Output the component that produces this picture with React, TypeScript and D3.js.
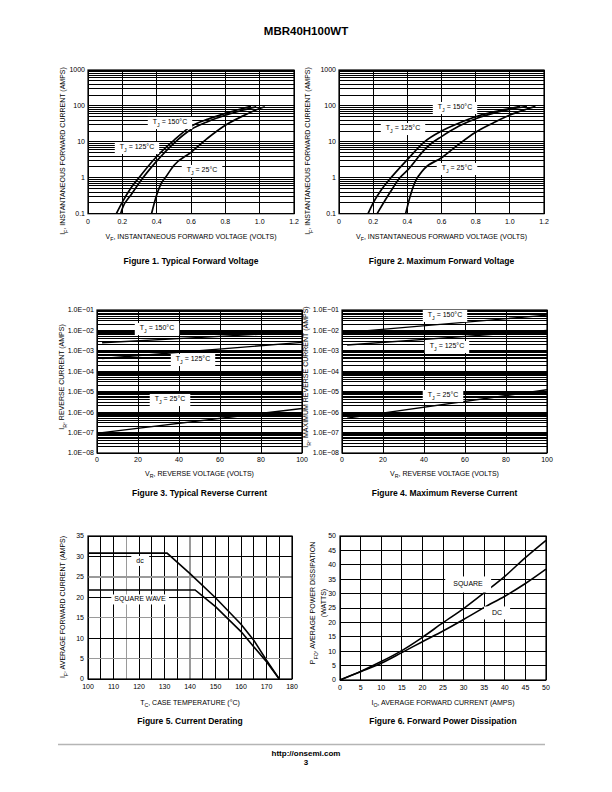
import React, { useEffect, useRef } from 'react';
import * as d3 from 'd3';

const FONT = "'Liberation Sans', Arial, Helvetica, sans-serif";
type Pt = [number, number];

// ---------- Figure 1: Typical Forward Voltage ----------
const fig1XTicks = [0, 0.2, 0.4, 0.6, 0.8, 1.0, 1.2];
const fig1XLabels = ['0', '0.2', '0.4', '0.6', '0.8', '1.0', '1.2'];
const fig1YTicks = [0.1, 1, 10, 100, 1000];
const fig1YLabels = ['0.1', '1', '10', '100', '1000'];
const fig1Tj150: Pt[] = [[0.165, 0.1], [0.2, 0.21], [0.25, 0.52], [0.3, 1.05], [0.4, 3.9], [0.5, 11], [0.6, 27], [0.7, 43], [0.8, 62], [0.9, 85], [0.95, 97]];
const fig1Tj125: Pt[] = [[0.19, 0.1], [0.2, 0.14], [0.25, 0.33], [0.3, 0.74], [0.4, 2.9], [0.5, 9.1], [0.6, 22], [0.7, 37], [0.8, 55], [0.9, 76], [0.98, 95]];
const fig1Tj25: Pt[] = [[0.37, 0.1], [0.4, 0.33], [0.43, 0.75], [0.45, 1.0], [0.5, 2.2], [0.6, 5.1], [0.7, 13], [0.8, 29], [0.9, 52], [1.0, 85], [1.03, 95]];

// ---------- Figure 2: Maximum Forward Voltage ----------
const fig2XTicks = fig1XTicks;
const fig2XLabels = fig1XLabels;
const fig2YTicks = fig1YTicks;
const fig2YLabels = fig1YLabels;
const fig2Tj150: Pt[] = [[0.17, 0.1], [0.2, 0.2], [0.25, 0.48], [0.3, 0.95], [0.4, 3.2], [0.5, 10], [0.6, 20], [0.7, 33], [0.8, 50], [0.9, 67], [1.0, 85], [1.06, 98]];
const fig2Tj125: Pt[] = [[0.223, 0.1], [0.3, 0.4], [0.356, 1.0], [0.4, 1.6], [0.5, 6.0], [0.54, 9], [0.6, 14], [0.7, 27], [0.8, 44], [0.9, 62], [1.0, 80], [1.1, 98]];
const fig2Tj25: Pt[] = [[0.39, 0.1], [0.42, 0.35], [0.45, 0.85], [0.47, 1.2], [0.5, 1.8], [0.6, 3.6], [0.7, 8.5], [0.8, 18.5], [0.9, 33], [1.0, 56], [1.1, 82], [1.15, 97]];

// ---------- Figure 3: Typical Reverse Current ----------
const fig3XTicks = [0, 20, 40, 60, 80, 100];
const fig3XLabels = ['0', '20', '40', '60', '80', '100'];
const fig3YTicks = [1e-8, 1e-7, 1e-6, 1e-5, 1e-4, 1e-3, 1e-2, 1e-1];
const fig3YLabels = ['1.0E−08', '1.0E−07', '1.0E−06', '1.0E−05', '1.0E−04', '1.0E−03', '1.0E−02', '1.0E−01'];
const fig3Tj150: Pt[] = [[2.5, 2.5e-3], [100, 8.5e-3]];
const fig3Tj125: Pt[] = [[2.5, 4.2e-4], [100, 2.6e-3]];
const fig3Tj25: Pt[] = [[2.5, 1.0e-7], [100, 1.5e-6]];

// ---------- Figure 4: Maximum Reverse Current ----------
const fig4XTicks = fig3XTicks;
const fig4XLabels = fig3XLabels;
const fig4YTicks = fig3YTicks;
const fig4YLabels = fig3YLabels;
const fig4Tj150: Pt[] = [[2.5, 8.0e-3], [100, 5.6e-2]];
const fig4Tj125: Pt[] = [[2.5, 1.95e-3], [100, 1.0e-2]];
const fig4Tj25: Pt[] = [[2.5, 5.1e-7], [100, 1.25e-5]];

// ---------- Figure 5: Current Derating ----------
const fig5XGrid = [100, 105, 110, 115, 120, 125, 130, 135, 140, 145, 150, 155, 160, 165, 170, 175, 180];
const fig5XTicks = [100, 110, 120, 130, 140, 150, 160, 170, 180];
const fig5YTicks = [0, 5, 10, 15, 20, 25, 30, 35];
const fig5GrayX = [115, 140];
const fig5GrayY = [5, 15, 25];
const fig5Dc: Pt[] = [[100, 30.8], [131, 30.8], [140, 25.8], [150, 19.9], [160, 13.4], [165, 9.5], [170, 4.6], [175, 0]];
const fig5Square: Pt[] = [[100, 21.8], [142, 21.8], [150, 17.7], [160, 11.6], [170, 4.2], [175, 0]];

// ---------- Figure 6: Forward Power Dissipation ----------
const fig6XTicks = [0, 5, 10, 15, 20, 25, 30, 35, 40, 45, 50];
const fig6YTicks = [0, 5, 10, 15, 20, 25, 30, 35, 40, 45, 50];
const fig6Square: Pt[] = [[0, 0], [5, 3], [10, 6.4], [15, 10.2], [20, 14.8], [25, 19.9], [30, 24.8], [35, 30.3], [40, 36], [45, 42.5], [50, 48.5]];
const fig6Dc: Pt[] = [[0, 0], [5, 2.9], [10, 5.8], [15, 9.5], [20, 13.3], [25, 17], [30, 21], [35, 25.2], [40, 29.1], [45, 33.5], [50, 38.5]];

type Part = { t: string; sub?: boolean };

function richText(sel: any, parts: Part[], fs: number) {
  let shifted = 0;
  parts.forEach((p) => {
    const ts = sel.append('tspan').text(p.t);
    const want = p.sub ? fs * 0.3 : 0;
    if (want !== shifted) {
      ts.attr('dy', want - shifted);
      shifted = want;
    }
    if (p.sub) ts.attr('font-size', fs * 0.75);
  });
}

function boxLabel(g: any, cx: number, cy: number, parts: Part[], fs = 7, padX = 5, padY = 1.5) {
  const grp = g.append('g');
  const rect = grp.append('rect').attr('fill', '#fff');
  const t = grp
    .append('text')
    .attr('x', cx)
    .attr('y', cy + fs * 0.35)
    .attr('text-anchor', 'middle')
    .attr('font-size', fs)
    .attr('font-family', FONT);
  richText(t, parts, fs);
  const bb = (t.node() as SVGTextElement).getBBox();
  rect
    .attr('x', bb.x - padX)
    .attr('y', bb.y - padY)
    .attr('width', bb.width + 2 * padX)
    .attr('height', bb.height + 2 * padY);
}

function logGrid(lo: number, hi: number) {
  const v: number[] = [];
  const e0 = Math.round(Math.log10(lo));
  const e1 = Math.round(Math.log10(hi));
  for (let e = e0; e < e1; e++) for (let m = 1; m < 10; m++) v.push(m * Math.pow(10, e));
  v.push(hi);
  return v;
}

interface Box { l: number; r: number; t: number; b: number }

function hLines(g: any, box: Box, y: any, vals: number[], color = '#000', w = 1) {
  g.selectAll(null)
    .data(vals)
    .join('line')
    .attr('x1', box.l)
    .attr('x2', box.r)
    .attr('y1', (d: number) => y(d))
    .attr('y2', (d: number) => y(d))
    .attr('stroke', color)
    .attr('stroke-width', w)
    .attr('shape-rendering', 'crispEdges');
}
function vLines(g: any, box: Box, x: any, vals: number[], color = '#000', w = 1) {
  g.selectAll(null)
    .data(vals)
    .join('line')
    .attr('y1', box.t)
    .attr('y2', box.b)
    .attr('x1', (d: number) => x(d))
    .attr('x2', (d: number) => x(d))
    .attr('stroke', color)
    .attr('stroke-width', w)
    .attr('shape-rendering', 'crispEdges');
}
function frame(g: any, box: Box) {
  g.append('rect')
    .attr('x', box.l)
    .attr('y', box.t)
    .attr('width', box.r - box.l)
    .attr('height', box.b - box.t)
    .attr('fill', 'none')
    .attr('stroke', '#000')
    .attr('stroke-width', 1.2);
}
function xTickLabels(g: any, x: any, vals: number[], labels: string[], yBase: number, fs = 7) {
  g.selectAll(null)
    .data(vals)
    .join('text')
    .attr('x', (d: number) => x(d))
    .attr('y', yBase)
    .attr('text-anchor', 'middle')
    .attr('font-size', fs)
    .attr('font-family', FONT)
    .text((_: number, i: number) => labels[i]);
}
function yTickLabels(g: any, y: any, vals: number[], labels: string[], xRight: number, fs = 7) {
  g.selectAll(null)
    .data(vals)
    .join('text')
    .attr('x', xRight)
    .attr('y', (d: number) => y(d) + fs * 0.35)
    .attr('text-anchor', 'end')
    .attr('font-size', fs)
    .attr('font-family', FONT)
    .text((_: number, i: number) => labels[i]);
}
function xTitle(g: any, cx: number, yBase: number, parts: Part[], fs = 7) {
  const t = g
    .append('text')
    .attr('x', cx)
    .attr('y', yBase)
    .attr('text-anchor', 'middle')
    .attr('font-size', fs)
    .attr('font-family', FONT);
  richText(t, parts, fs);
}
function yTitle(g: any, cx: number, cy: number, parts: Part[], fs = 7) {
  const t = g
    .append('text')
    .attr('transform', `translate(${cx},${cy}) rotate(-90)`)
    .attr('y', fs * 0.35)
    .attr('text-anchor', 'middle')
    .attr('font-size', fs)
    .attr('font-family', FONT);
  richText(t, parts, fs);
}
function caption(g: any, cx: number, yBase: number, text: string) {
  g.append('text')
    .attr('x', cx)
    .attr('y', yBase)
    .attr('text-anchor', 'middle')
    .attr('font-size', 8.5)
    .attr('font-weight', 'bold')
    .attr('font-family', FONT)
    .text(text);
}
function curve(g: any, x: any, y: any, data: Pt[], w = 1.5, smooth = true) {
  const line = d3
    .line<Pt>()
    .x((d) => x(d[0]))
    .y((d) => y(d[1]))
    .curve(smooth ? d3.curveMonotoneX : d3.curveLinear);
  g.append('path').attr('d', line(data)).attr('fill', 'none').attr('stroke', '#000').attr('stroke-width', w);
}
const tj = (v: string): Part[] => [{ t: 'T' }, { t: 'J', sub: true }, { t: ` = ${v}°C` }];

function forwardChart(svg: any, box: Box, xTicks: number[], xLabels: string[], yTicks: number[], yLabels: string[],
  series: Pt[][], labels: { x: number; y: number; v: string }[], yTitleX: number, capText: string) {
  const g = svg.append('g');
  const x = d3.scaleLinear().domain([0, 1.2]).range([box.l, box.r]);
  const y = d3.scaleLog().domain([0.1, 1000]).range([box.b, box.t]);
  hLines(g, box, y, logGrid(0.1, 1000));
  vLines(g, box, x, xTicks);
  frame(g, box);
  series.forEach((s) => curve(g, x, y, s, 1.7));
  labels.forEach((l) => boxLabel(g, l.x, l.y, tj(l.v)));
  xTickLabels(g, x, xTicks, xLabels, box.b + 10.5);
  yTickLabels(g, y, yTicks, yLabels, box.l - 3);
  const cx = (box.l + box.r) / 2;
  xTitle(g, cx, box.b + 25.5, [{ t: 'V' }, { t: 'F', sub: true }, { t: ', INSTANTANEOUS FORWARD VOLTAGE (VOLTS)' }]);
  yTitle(g, yTitleX, 151, [{ t: 'I' }, { t: 'F', sub: true }, { t: ', INSTANTANEOUS FORWARD CURRENT (AMPS)' }]);
  caption(g, cx, 264, capText);
}

function reverseChart(svg: any, box: Box, xTicks: number[], xLabels: string[], yTicks: number[], yLabels: string[],
  series: Pt[][], labels: { x: number; y: number; v: string }[], yTitleX: number, yTitleText: string, capText: string) {
  const g = svg.append('g');
  const x = d3.scaleLinear().domain([0, 100]).range([box.l, box.r]);
  const y = d3.scaleLog().domain([1e-8, 1e-1]).range([box.b, box.t]);
  hLines(g, box, y, logGrid(1e-8, 1e-1));
  vLines(g, box, x, xTicks);
  frame(g, box);
  series.forEach((s) => curve(g, x, y, s, 1.4, false));
  labels.forEach((l) => boxLabel(g, l.x, l.y, tj(l.v)));
  xTickLabels(g, x, xTicks, xLabels, box.b + 9);
  yTickLabels(g, y, yTicks, yLabels, box.l - 3);
  const cx = (box.l + box.r) / 2;
  xTitle(g, cx, box.b + 22.5, [{ t: 'V' }, { t: 'R', sub: true }, { t: ', REVERSE VOLTAGE (VOLTS)' }]);
  yTitle(g, yTitleX, 377, [{ t: 'I' }, { t: 'R', sub: true }, { t: yTitleText }]);
  caption(g, cx, 496, capText);
}

function App() {
  const ref = useRef<SVGSVGElement>(null);
  useEffect(() => {
    const svg = d3.select(ref.current);
    svg.selectAll('*').remove();
    svg.append('rect').attr('width', 612).attr('height', 792).attr('fill', '#fff');

    // header
    svg.append('text').attr('x', 306).attr('y', 35).attr('text-anchor', 'middle').attr('font-size', 11.5)
      .attr('font-weight', 'bold').attr('font-family', FONT).text('MBR40H100WT');

    forwardChart(svg, { l: 88, r: 294, t: 70, b: 213.7 }, fig1XTicks, fig1XLabels, fig1YTicks, fig1YLabels,
      [fig1Tj150, fig1Tj125, fig1Tj25],
      [{ x: 170, y: 122, v: '150' }, { x: 137, y: 147, v: '125' }, { x: 202, y: 170, v: '25' }],
      63, 'Figure 1. Typical Forward Voltage');

    forwardChart(svg, { l: 339, r: 544, t: 70, b: 213.7 }, fig2XTicks, fig2XLabels, fig2YTicks, fig2YLabels,
      [fig2Tj150, fig2Tj125, fig2Tj25],
      [{ x: 455, y: 107, v: '150' }, { x: 403, y: 128, v: '125' }, { x: 457, y: 168, v: '25' }],
      308, 'Figure 2. Maximum Forward Voltage');

    reverseChart(svg, { l: 97, r: 302, t: 310, b: 453 }, fig3XTicks, fig3XLabels, fig3YTicks, fig3YLabels,
      [fig3Tj150, fig3Tj125, fig3Tj25],
      [{ x: 157, y: 328, v: '150' }, { x: 193, y: 359, v: '125' }, { x: 170, y: 399, v: '25' }],
      62, ', REVERSE CURRENT (AMPS)', 'Figure 3. Typical Reverse Current');

    reverseChart(svg, { l: 342, r: 547, t: 310, b: 453 }, fig4XTicks, fig4XLabels, fig4YTicks, fig4YLabels,
      [fig4Tj150, fig4Tj125, fig4Tj25],
      [{ x: 445, y: 315, v: '150' }, { x: 447, y: 346, v: '125' }, { x: 443, y: 395, v: '25' }],
      306, ', MAXIMUM REVERSE CURRENT (AMPS)', 'Figure 4. Maximum Reverse Current');

    // Figure 5
    {
      const box = { l: 88, r: 292, t: 536, b: 679 };
      const g = svg.append('g');
      const x = d3.scaleLinear().domain([100, 180]).range([box.l, box.r]);
      const y = d3.scaleLinear().domain([0, 35]).range([box.b, box.t]);
      vLines(g, box, x, fig5XGrid.filter((v) => !fig5GrayX.includes(v)));
      vLines(g, box, x, fig5GrayX, '#9a9a9a', 1.5);
      hLines(g, box, y, fig5YTicks.filter((v) => !fig5GrayY.includes(v)));
      hLines(g, box, y, fig5GrayY, '#9a9a9a', 1.5);
      frame(g, box);
      curve(g, x, y, fig5Dc, 1.6, false);
      curve(g, x, y, fig5Square, 1.6, false);
      boxLabel(g, 140, 561, [{ t: 'dc' }]);
      boxLabel(g, 140, 599, [{ t: 'SQUARE WAVE' }], 7, 3, 1);
      xTickLabels(g, x, fig5XTicks, fig5XTicks.map(String), box.b + 9.5);
      yTickLabels(g, y, fig5YTicks, fig5YTicks.map(String), box.l - 4);
      const cx = (box.l + box.r) / 2;
      xTitle(g, cx, 705, [{ t: 'T' }, { t: 'C', sub: true }, { t: ', CASE TEMPERATURE (°C)' }]);
      yTitle(g, 63, 607, [{ t: 'I' }, { t: 'F', sub: true }, { t: ', AVERAGE FORWARD CURRENT (AMPS)' }]);
      caption(g, cx, 724, 'Figure 5. Current Derating');
    }

    // Figure 6
    {
      const box = { l: 340, r: 546, t: 536, b: 680 };
      const g = svg.append('g');
      const x = d3.scaleLinear().domain([0, 50]).range([box.l, box.r]);
      const y = d3.scaleLinear().domain([0, 50]).range([box.b, box.t]);
      vLines(g, box, x, fig6XTicks);
      hLines(g, box, y, fig6YTicks);
      frame(g, box);
      curve(g, x, y, fig6Square, 1.6);
      curve(g, x, y, fig6Dc, 1.6);
      boxLabel(g, 468, 584, [{ t: 'SQUARE' }], 7, 8, 4);
      boxLabel(g, 497, 613, [{ t: 'DC' }], 7, 8, 3);
      xTickLabels(g, x, fig6XTicks, fig6XTicks.map(String), box.b + 9.5);
      yTickLabels(g, y, fig6YTicks, fig6YTicks.map(String), box.l - 4);
      const cx = (box.l + box.r) / 2;
      xTitle(g, cx, 705, [{ t: 'I' }, { t: 'O', sub: true }, { t: ', AVERAGE FORWARD CURRENT (AMPS)' }]);
      yTitle(g, 313, 603, [{ t: 'P' }, { t: 'FO', sub: true }, { t: ', AVERAGE POWER DISSIPATION' }]);
      yTitle(g, 324, 603, [{ t: '(WATTS)' }]);
      caption(g, cx, 724, 'Figure 6. Forward Power Dissipation');
    }

    // footer
    svg.append('line').attr('x1', 58).attr('x2', 545).attr('y1', 744.5).attr('y2', 744.5)
      .attr('stroke', '#b5b5b5').attr('stroke-width', 1.5);
    svg.append('text').attr('x', 306).attr('y', 756).attr('text-anchor', 'middle').attr('font-size', 8)
      .attr('font-weight', 'bold').attr('font-family', FONT).text('http://onsemi.com');
    svg.append('text').attr('x', 306).attr('y', 765).attr('text-anchor', 'middle').attr('font-size', 8)
      .attr('font-weight', 'bold').attr('font-family', FONT).text('3');
  }, []);

  return (
    <svg ref={ref} width={612} height={792} style={{ position: 'absolute', left: 0, top: 0, display: 'block' }} />
  );
}

export default App;
